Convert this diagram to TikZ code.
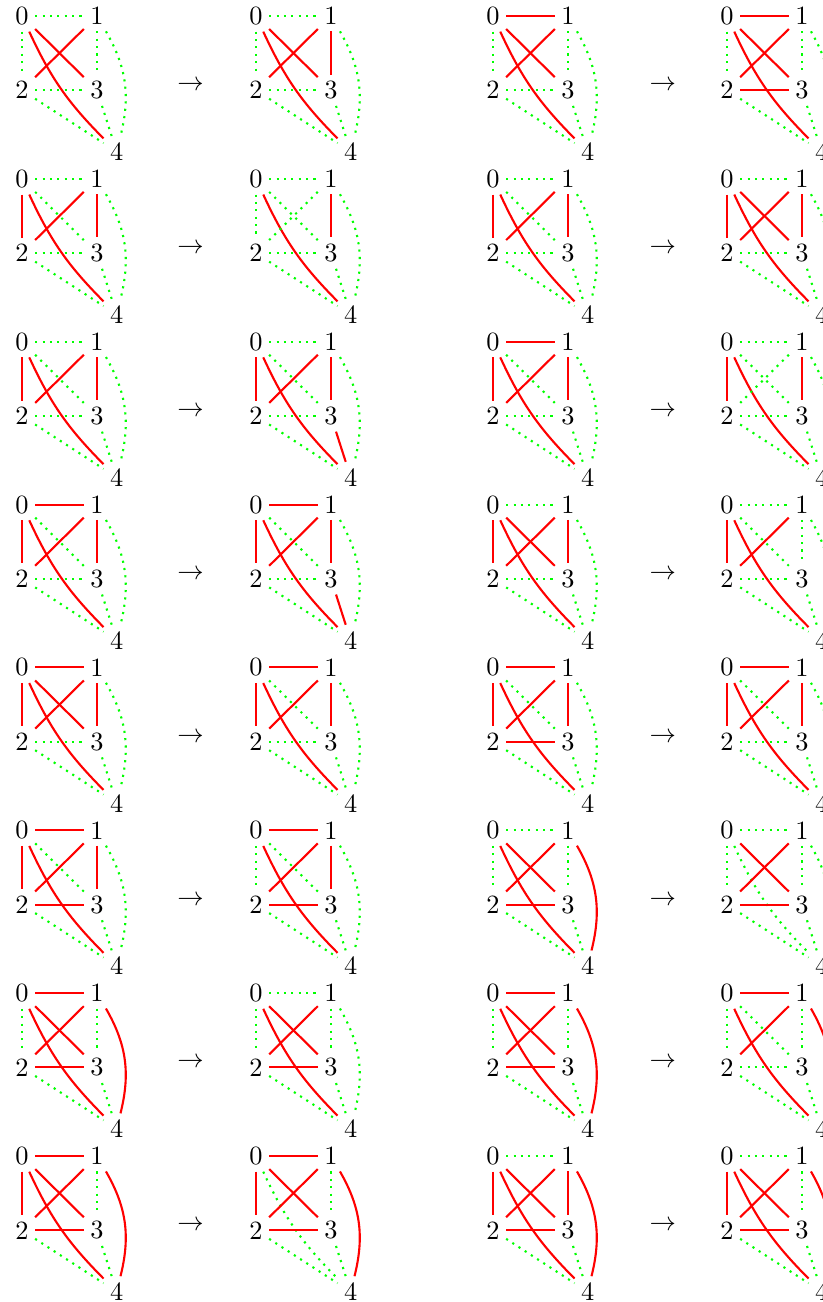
\documentclass[tikz,border=0pt]{standalone}
\usepackage{amsmath, amssymb}
\usepackage{tikz}

\makeatletter
% one drawing of K5: #1 name, #2 origin, #3 red edges (the rest dotted green)
\newcommand{\kfive}[3]{%
  \begin{scope}[shift={#2}]
    \node (#1-0) [vtx] at (0,0) {0};
    \node (#1-1) [vtx] at (1,0) {1};
    \node (#1-2) [vtx] at (0,-0.99) {2};
    \node (#1-3) [vtx] at (1,-0.99) {3};
    \node (#1-4) [vtx] at (1.263,-1.809) {4};
  \end{scope}
  \foreach \u/\v in {0/1,0/2,0/3,0/4,1/2,1/3,1/4,2/3,2/4,3/4}{%
    \edef\kfivetest{\noexpand\in@{,\u\v,}{,#3,}}\kfivetest
    \ifin@
      \draw [redge] (#1-\u) to[e\u\v] (#1-\v);
    \else
      \draw [gedge] (#1-\u) to[e\u\v] (#1-\v);
    \fi}%
}
\makeatother

\begin{document}
\begin{tikzpicture}[
        vtx/.style={inner sep=2.3pt},
        redge/.style={thick, red},
        gedge/.style={thick, green, dotted},
        e01/.style={}, e02/.style={}, e03/.style={}, e04/.style={bend right=10},
        e12/.style={}, e13/.style={}, e14/.style={bend left=22},
        e23/.style={}, e24/.style={}, e34/.style={}
    ]
    \useasboundingbox (0,0) rectangle (10.973,-17.36);

    % row 1
    \kfive{a1}{(0.293,-0.213)}{03,04,12}
    \node (to1a) at (2.542,-1.146) {$\to$};
    \kfive{b1}{(3.413,-0.213)}{03,04,12,13}
    \kfive{c1}{(6.573,-0.213)}{01,03,04,12}
    \node (to1b) at (8.836,-1.146) {$\to$};
    \kfive{d1}{(9.693,-0.213)}{01,03,04,12,23}

    % row 2
    \kfive{a2}{(0.293,-2.385)}{02,04,12,13}
    \node (to2a) at (2.542,-3.318) {$\to$};
    \kfive{b2}{(3.413,-2.385)}{04,13}
    \kfive{c2}{(6.573,-2.385)}{02,04,12,13}
    \node (to2b) at (8.836,-3.318) {$\to$};
    \kfive{d2}{(9.693,-2.385)}{02,03,04,12,13}

    % row 3
    \kfive{a3}{(0.293,-4.556)}{02,04,12,13}
    \node (to3a) at (2.542,-5.489) {$\to$};
    \kfive{b3}{(3.413,-4.556)}{02,04,12,13,34}
    \kfive{c3}{(6.573,-4.556)}{01,02,04,12,13}
    \node (to3b) at (8.836,-5.489) {$\to$};
    \kfive{d3}{(9.693,-4.556)}{02,04,13}

    % row 4
    \kfive{a4}{(0.293,-6.728)}{01,02,04,12,13}
    \node (to4a) at (2.542,-7.661) {$\to$};
    \kfive{b4}{(3.413,-6.728)}{01,02,04,12,13,34}
    \kfive{c4}{(6.573,-6.728)}{02,03,04,12,13}
    \node (to4b) at (8.836,-7.661) {$\to$};
    \kfive{d4}{(9.693,-6.728)}{02,04,12}

    % row 5
    \kfive{a5}{(0.293,-8.899)}{01,02,03,04,12,13}
    \node (to5a) at (2.542,-9.832) {$\to$};
    \kfive{b5}{(3.413,-8.899)}{01,02,04,12,13}
    \kfive{c5}{(6.573,-8.899)}{01,02,04,12,13,23}
    \node (to5b) at (8.836,-9.832) {$\to$};
    \kfive{d5}{(9.693,-8.899)}{01,02,04,12,13}

    % row 6
    \kfive{a6}{(0.293,-11.071)}{01,02,04,12,13,23}
    \node (to6a) at (2.542,-12.004) {$\to$};
    \kfive{b6}{(3.413,-11.071)}{01,04,12,13,23}
    \kfive{c6}{(6.573,-11.071)}{03,04,12,14,23}
    \node (to6b) at (8.836,-12.004) {$\to$};
    \kfive{d6}{(9.693,-11.071)}{03,12,23}

    % row 7
    \kfive{a7}{(0.293,-13.242)}{01,03,04,12,14,23}
    \node (to7a) at (2.542,-14.175) {$\to$};
    \kfive{b7}{(3.413,-13.242)}{03,04,12,23}
    \kfive{c7}{(6.573,-13.242)}{01,03,04,12,14,23}
    \node (to7b) at (8.836,-14.175) {$\to$};
    \kfive{d7}{(9.693,-13.242)}{01,04,12,14}

    % row 8
    \kfive{a8}{(0.293,-15.414)}{01,02,03,04,12,14,23}
    \node (to8a) at (2.542,-16.347) {$\to$};
    \kfive{b8}{(3.413,-15.414)}{01,02,03,12,14,23}
    \kfive{c8}{(6.573,-15.414)}{02,03,04,12,13,14,23}
    \node (to8b) at (8.836,-16.347) {$\to$};
    \kfive{d8}{(9.693,-15.414)}{02,03,04,12,14,23}

\end{tikzpicture}
\end{document}
